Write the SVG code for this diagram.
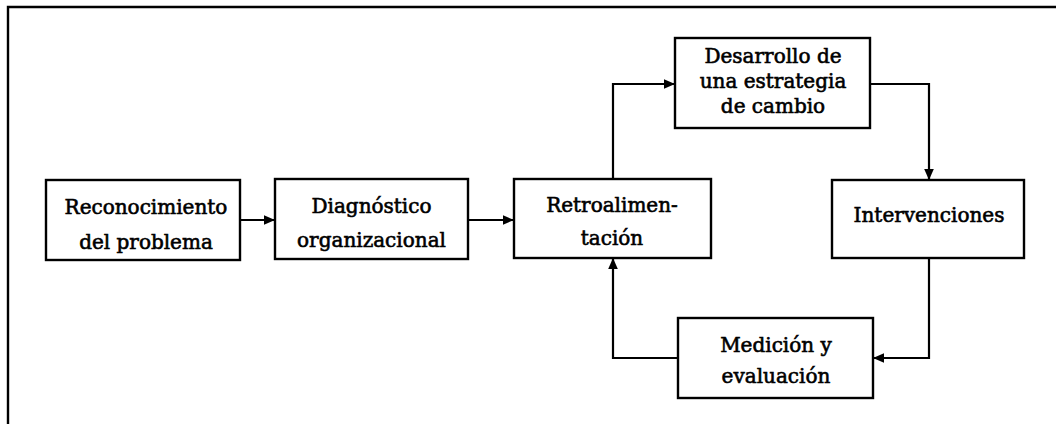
<svg xmlns="http://www.w3.org/2000/svg" width="1056" height="424" viewBox="0 0 1056 424">
<defs>
<marker id="arr" markerUnits="userSpaceOnUse" markerWidth="13" markerHeight="12" refX="11" refY="6" orient="auto">
<path d="M0,1.2 L11,6 L0,10.8 Z" fill="#000"/>
</marker>
<style>
.box{fill:#fff;stroke:#000;stroke-width:2.4}
.lbl{font-family:"DejaVu Serif","Liberation Serif",serif;font-size:20px;fill:#000;stroke:#000;stroke-width:0.6;text-anchor:middle}
.con{fill:none;stroke:#000;stroke-width:2.2;marker-end:url(#arr)}
</style>
</defs>
<rect width="1056" height="424" fill="#fff"/>
<path d="M8,424 V7 H1056" fill="none" stroke="#000" stroke-width="2.4"/>
<g id="connectors">
<path class="con" d="M240,220 H275"/>
<path class="con" d="M468,220 H514"/>
<path class="con" d="M613,179 V84 H675"/>
<path class="con" d="M870,84 H929 V180"/>
<path class="con" d="M929,258 V358 H873"/>
<path class="con" d="M678,358 H613 V258"/>
</g>
<g id="reconocimiento">
<rect class="box" x="46" y="180" width="194" height="80"/>
<text class="lbl" x="146" y="214">Reconocimiento</text>
<text class="lbl" x="146" y="249">del problema</text>
</g>
<g id="diagnostico">
<rect class="box" x="275" y="179" width="193" height="80"/>
<text class="lbl" x="371.5" y="213">Diagnóstico</text>
<text class="lbl" x="371.5" y="247">organizacional</text>
</g>
<g id="retroalimentacion">
<rect class="box" x="514" y="179" width="197" height="79"/>
<text class="lbl" x="612" y="212">Retroalimen-</text>
<text class="lbl" x="612" y="245">tación</text>
</g>
<g id="desarrollo">
<rect class="box" x="675" y="38" width="195" height="90"/>
<text class="lbl" x="773" y="63">Desarrollo de</text>
<text class="lbl" x="773" y="88">una estrategia</text>
<text class="lbl" x="773" y="113">de cambio</text>
</g>
<g id="intervenciones">
<rect class="box" x="832" y="180" width="192" height="78"/>
<text class="lbl" x="929" y="222">Intervenciones</text>
</g>
<g id="medicion">
<rect class="box" x="678" y="318" width="195" height="80"/>
<text class="lbl" x="776" y="352">Medición y</text>
<text class="lbl" x="776" y="383">evaluación</text>
</g>
</svg>
